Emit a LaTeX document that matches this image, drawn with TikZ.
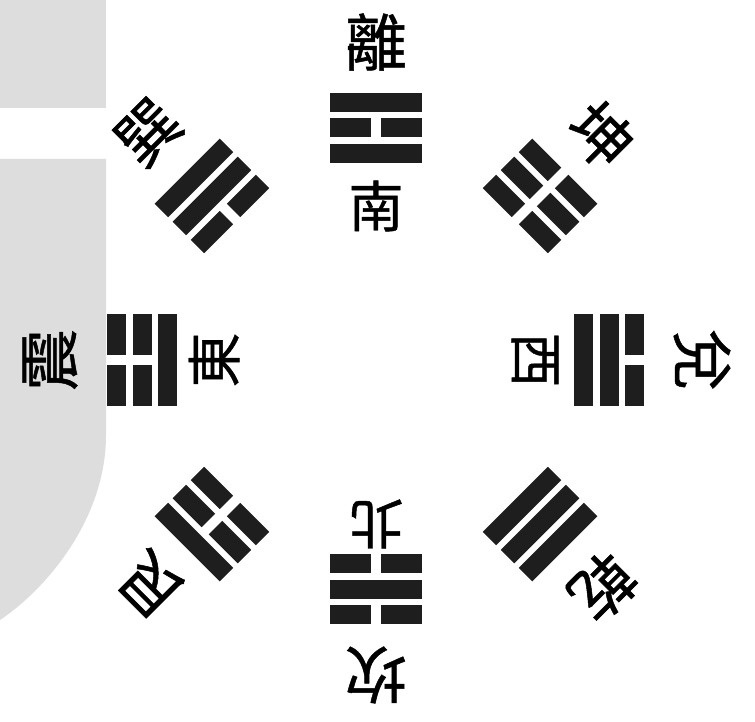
\documentclass[tikz,border=0pt]{standalone}
\usepackage{fontspec}
\newfontfamily\cjk[FakeBold=0.8]{Noto Sans CJK TC}
\definecolor{bggray}{RGB}{221,221,221}
\definecolor{barcol}{RGB}{30,30,30}
\tikzset{
  bar/.style={fill=barcol},
  outerlab/.style={inner sep=0pt, font=\cjk\fontsize{62}{62}\selectfont},
  innerlab/.style={inner sep=0pt, font=\cjk\fontsize{55}{55}\selectfont},
}
\newcommand\yaoline[2]{%
  \ifnum#2=1
    \fill[bar] ({-46},{#1-9.5}) rectangle ({46},{#1+9.5});
  \else
    \fill[bar] ({-46},{#1-9.5}) rectangle ({-5},{#1+9.5});
    \fill[bar] ({5},{#1-9.5}) rectangle ({46},{#1+9.5});
  \fi}
\newcommand\trigram[5]{%
  \begin{scope}[shift={(#1)}, rotate=#2-90]
    \yaoline{-25.5}{#3}\yaoline{0}{#4}\yaoline{25.5}{#5}
  \end{scope}}
\begin{document}
\begin{tikzpicture}[x=1pt,y=1pt]
\useasboundingbox (0,0) rectangle (755,721);
% grey background panels
\fill[bggray] (0,613) rectangle (106,721);
\fill[bggray] (0,562) -- (106,562) -- (106,286)
  .. controls (106,201) and (45,131) .. (0,101) -- cycle;
\coordinate (C) at (376,361);
\begin{scope}[shift={(C)}]
  % trigram positions
  \coordinate (Li)   at (90:232);
  \coordinate (Kun)  at (45:232);
  \coordinate (Dui)  at (0:233);
  \coordinate (Qian) at (-45:232);
  \coordinate (Kan)  at (-90:229);
  \coordinate (Gen)  at (-135:232);
  \coordinate (Zhen) at (180:234);
  \coordinate (Xun)  at (135:232);
  % outer names
  \node[outerlab, rotate=0]    (nLi)   at (90:318)   {離};
  \node[outerlab, rotate=-45]  (nKun)  at (45:318)   {坤};
  \node[outerlab, rotate=-90]  (nDui)  at (0:326)    {兌};
  \node[outerlab, rotate=-135] (nQian) at (-45:321)  {乾};
  \node[outerlab, rotate=180]  (nKan)  at (-90:315)  {坎};
  \node[outerlab, rotate=135]  (nGen)  at (-135:318) {艮};
  \node[outerlab, rotate=90]   (nZhen) at (180:326)  {震};
  \node[outerlab, rotate=45]   (nXun)  at (135:322)  {巽};
  % inner directions
  \node[innerlab, rotate=0]   (dS) at (90:154)  {南};
  \node[innerlab, rotate=-90] (dW) at (0:159)   {西};
  \node[innerlab, rotate=180] (dN) at (-90:164) {北};
  \node[innerlab, rotate=90]  (dE) at (180:162) {東};
\end{scope}
% trigrams: bottom (inner), middle, top (outer) lines; 1 = solid
\trigram{Li}{90}{1}{0}{1}
\trigram{Kun}{45}{0}{0}{0}
\trigram{Dui}{0}{1}{1}{0}
\trigram{Qian}{-45}{1}{1}{1}
\trigram{Kan}{-90}{0}{1}{0}
\trigram{Gen}{-135}{0}{0}{1}
\trigram{Zhen}{180}{1}{0}{0}
\trigram{Xun}{135}{0}{1}{1}
\end{tikzpicture}
\end{document}
